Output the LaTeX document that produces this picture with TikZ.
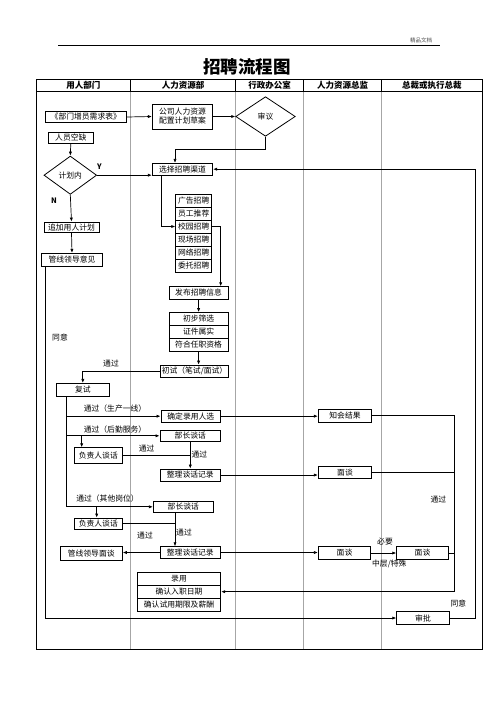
\documentclass[tikz,border=0pt]{standalone}
\usepackage{fontspec}
\setmainfont{Noto Sans CJK SC}
\usetikzlibrary{arrows.meta,shapes.geometric}
\begin{document}
\begin{tikzpicture}[x=1pt,y=-1pt,
  box/.style={draw, line width=0.8pt, inner sep=0pt, font=\fontsize{7.8}{9}\selectfont, align=center},
  bx/.style n args={2}{box, minimum width=#1pt, minimum height=#2pt},
  dia/.style n args={2}{draw, line width=0.8pt, diamond, aspect=1.4, inner sep=0pt, font=\fontsize{7.8}{9}\selectfont, minimum width=#1pt, minimum height=#2pt},
  arr/.style={line width=0.7pt, -{Latex[length=4pt,width=3.2pt]}},
  ln/.style={line width=0.7pt},
  lbl/.style={font=\fontsize{7.8}{9}\selectfont, inner sep=0pt},
  hd/.style={font=\fontsize{8.5}{10}\selectfont\bfseries, inner sep=0pt},
  col/.style={gray!70, line width=0.5pt}]

\useasboundingbox[fill=white] (0,0) rectangle (496,702);

% page header
\node[font=\fontsize{5.5}{6}\selectfont, text=black!70, inner sep=0pt] (doc) at (421,40.5) {精品文档};
\draw[line width=0.7pt] (58,45.7) -- (440,45.7);
\node[font=\fontsize{17.5}{20}\selectfont\bfseries, inner sep=0pt] (title) at (247,66.5) {招聘流程图};

% table
\foreach \x in {130.7,235.7,303.5,381.5} {
  \draw[col] (\x,91.7) -- (\x,649);
  \draw[line width=0.6pt] (\x,79) -- (\x,91.7);
}
\draw[line width=0.9pt] (36,79) rectangle (482,649);
\draw[line width=0.9pt] (36,91.7) -- (482,91.7);
\node[hd] (h1) at (83.4,85.4) {用人部门};
\node[hd] (h2) at (183.2,85.4) {人力资源部};
\node[hd] (h3) at (269.6,85.4) {行政办公室};
\node[hd] (h4) at (342.5,85.4) {人力资源总监};
\node[hd] (h5) at (431.8,85.4) {总裁或执行总裁};

% helper coordinates (x positions of vertical runs)
\coordinate (xa) at (45,0);
\coordinate (xb) at (161,0);
\coordinate (xc) at (220.7,0);
\coordinate (xd) at (66.7,0);
\coordinate (xe) at (81.7,0);
\coordinate (xf) at (96.7,0);
\coordinate (xg) at (454.3,0);
\coordinate (xh) at (175,0);
\coordinate (xi) at (475.7,0);
\coordinate (yb) at (175,149);

% nodes
\node[bx={81.7}{10.6}] (req) at (85.8,117) {《部门增员需求表》};
\node[bx={60.4}{25}] (plan) at (182.5,116.5) {公司人力资源\\配置计划草案};
\node[dia={59.6}{39.6}] (audit) at (265.5,116.5) {审议};
\node[bx={60.4}{11.7}] (sel) at (182.5,169.2) {选择招聘渠道};
\node[bx={45}{11}] (vac) at (70.8,137.8) {人员空缺};
\node[dia={52.7}{38.3}] (inplan) at (70.3,175.2) {计划内};
\node[bx={55}{10.5}] (add) at (71.5,227.3) {追加用人计划};
\node[bx={60.6}{13.4}] (lead) at (72,260) {管线领导意见};

\node[bx={36}{13}] (ch1) at (193.7,200.5) {广告招聘};
\node[bx={36}{13}] (ch2) at (193.7,213.5) {员工推荐};
\node[bx={36}{13}] (ch3) at (193.7,226.5) {校园招聘};
\node[bx={36}{13}] (ch4) at (193.7,239.5) {现场招聘};
\node[bx={36}{13}] (ch5) at (193.7,252.5) {网络招聘};
\node[bx={36}{13}] (ch6) at (193.7,265.5) {委托招聘};

\node[bx={59.3}{12.6}] (pub) at (198.6,293) {发布招聘信息};
\node[bx={59.3}{12.9}] (sc1) at (198.6,319) {初步筛选};
\node[bx={59.3}{12.9}] (sc2) at (198.6,332) {证件属实};
\node[bx={59.3}{12.9}] (sc3) at (198.6,344.8) {符合任职资格};
\node[bx={67.6}{12.3}] (first) at (194.5,371.2) {初试（笔试/面试）};
\node[bx={52.3}{12.7}] (re) at (82.8,389.7) {复试};

\node[bx={59.7}{11.5}] (hire) at (190.8,416.2) {确定录用人选};
\node[bx={53.4}{13}] (notify) at (345,415.8) {知会结果};
\node[bx={60.7}{11.7}] (min1) at (190.3,435.8) {部长谈话};
\node[bx={48}{15.6}] (resp1) at (98.3,455.5) {负责人谈话};
\node[bx={60.7}{12}] (rec1) at (190.3,475) {整理谈话记录};
\node[bx={53.4}{12.6}] (talkA) at (345,472.5) {面谈};

\node[bx={60}{11.7}] (min2) at (183.3,506.8) {部长谈话};
\node[bx={48}{11.5}] (resp2) at (98.3,523.8) {负责人谈话};
\node[bx={60.7}{11.6}] (rec2) at (190.3,552.5) {整理谈话记录};
\node[bx={62.3}{13.3}] (leadtalk) at (91.2,553.3) {管线领导面谈};
\node[bx={52.4}{12.6}] (talkB) at (344.5,553) {面谈};
\node[bx={51.6}{12.6}] (talkC) at (422.5,553) {面谈};

\node[bx={83.4}{13.1}] (hs1) at (179,578.7) {录用};
\node[bx={83.4}{13.3}] (hs2) at (179,591.7) {确认入职日期};
\node[bx={83.4}{13.4}] (hs3) at (179,605) {确认试用期限及薪酬};
\node[bx={52.6}{12.6}] (approve) at (423,618) {审批};

% labels
\node[lbl, font=\fontsize{7.5}{9}\selectfont\bfseries] (lY) at (99.5,166.5) {Y};
\node[lbl, font=\fontsize{7.5}{9}\selectfont\bfseries] (lN) at (54,201) {N};
\node[lbl] (lagree1) at (60,337.5) {同意};
\node[lbl] (lpass0) at (111,363.5) {通过};
\node[lbl] (lprod) at (115,409) {通过（生产一线）};
\node[lbl] (llog) at (115,429.3) {通过（后勤服务）};
\node[lbl] (lp1) at (146.7,448.3) {通过};
\node[lbl] (lp2) at (199.3,455) {通过};
\node[lbl] (loth) at (107.5,499) {通过（其他岗位）};
\node[lbl] (lp3) at (145,536) {通过};
\node[lbl] (lp4) at (184,532.3) {通过};
\node[lbl] (lp5) at (438.3,499.5) {通过};
\node[lbl] (lnec) at (385,541.7) {必要};
\node[lbl] (lmid) at (389.3,564.3) {中层/特殊};
\node[lbl] (lagree2) at (458.3,604) {同意};

% connectors
\draw[arr] (req.east) -- (plan.west);
\draw[arr] (plan.east) -- (audit.west);
\draw[arr] (audit.south) |- (yb) -- (yb |- sel.north);
\draw[arr] (vac.south) -- (inplan.north);
\draw[arr] (inplan.east) -- (inplan.east -| sel.west);
\draw[arr] (inplan.south) -- (add.north);
\draw[arr] (add.south) -- (lead.north);
\draw[arr] (lead.south -| xa) |- (approve.west);
\draw[arr] (sel.south -| xb) |- (ch3.west);
\draw[arr] (ch3.east) -| (xc |- pub.north);
\draw[arr] (pub.south) -- (sc1.north);
\draw[arr] (sc3.south) -- (sc3.south |- first.north);
\draw[arr] (first.west) -| (re.north);
\draw[arr] (re.south -| xd) |- (min2.west);
\draw[arr] (xd |- hire.west) -- (hire.west);
\draw[arr] (xd |- min1.west) -- (min1.west);
\draw[arr] (xe |- min1.west) -- (xe |- resp1.north);
\draw[arr] (xf |- min2.west) -- (xf |- resp2.north);
\draw[arr] (min1.south) -- (rec1.north);
\draw[ln] (resp1.east) -- (resp1.east -| min1.south);
\draw[arr] (rec1.east) -- (rec1.east -| talkA.west);
\draw[arr] (hire.east) -- (hire.east -| notify.west);
\draw[arr] (notify.east) -| (xg |- hs2.east) -- (hs2.east);
\draw[ln] (talkA.east) -- (talkA.east -| xg);
\draw[arr] (min2.south -| xh) -- (xh |- rec2.north);
\draw[ln] (resp2.east) -- (resp2.east -| xh);
\draw[arr] (rec2.west) -- (rec2.west -| leadtalk.east);
\draw[arr] (rec2.east) -- (rec2.east -| talkB.west);
\draw[arr] (talkB.east) -- (talkC.west);
\draw[ln] (talkC.east) -- (talkC.east -| xg);
\draw[arr] (approve.east) -| (xi |- sel.east) -- (sel.east);
\end{tikzpicture}
\end{document}
